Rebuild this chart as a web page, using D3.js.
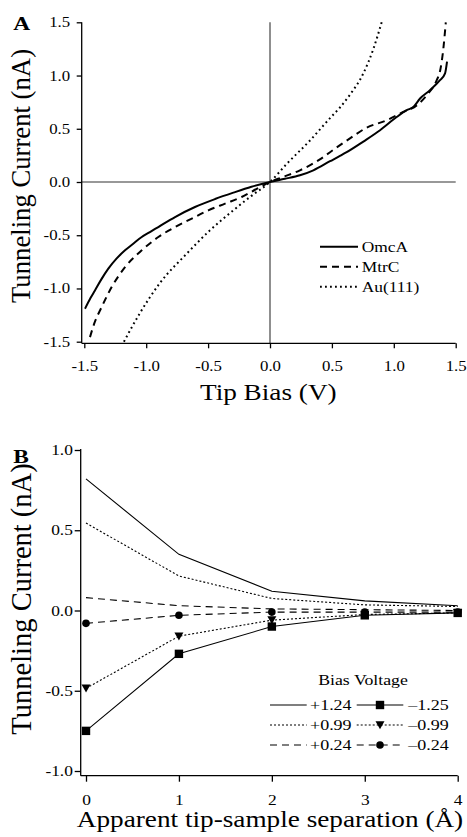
<!DOCTYPE html>
<html>
<head>
<meta charset="utf-8">
<script src="https://cdn.jsdelivr.net/npm/d3@7"></script>
<style>
  body { margin: 0; background: #fff; }
  text { font-family: "Liberation Serif", "Times New Roman", serif; fill: #000; }
</style>
</head>
<body>
<svg id="fig" width="467" height="837"></svg>
<script>
// ---- panel A data (tip bias V, current nA)
var omca_v = [-1.494,-1.45,-1.414,-1.36,-1.306,-1.24,-1.171,-1.10,-1.036,-0.97,-0.902,-0.767,-0.606,-0.444,-0.296,-0.15,0,0.12,0.242,0.35,0.485,0.565,0.619,0.754,0.889,1.023,1.104,1.158,1.212,1.292,1.373,1.414,1.43];
var omca_i = [-1.19,-1.09,-1.018,-0.91,-0.814,-0.72,-0.642,-0.575,-0.517,-0.47,-0.423,-0.329,-0.235,-0.160,-0.100,-0.045,0,0.03,0.063,0.11,0.195,0.245,0.28,0.38,0.486,0.61,0.674,0.705,0.784,0.862,0.956,1.02,1.13];
var mtrc_v = [-1.454,-1.42,-1.36,-1.279,-1.171,-1.036,-0.902,-0.767,-0.632,-0.498,-0.363,-0.229,-0.10,0,0.10,0.242,0.40,0.485,0.539,0.646,0.78,0.943,1.077,1.185,1.266,1.346,1.375,1.40,1.42];
var mtrc_i = [-1.457,-1.33,-1.175,-0.987,-0.80,-0.642,-0.517,-0.423,-0.344,-0.266,-0.203,-0.141,-0.06,0,0.045,0.11,0.21,0.28,0.325,0.41,0.51,0.58,0.658,0.72,0.815,0.955,1.05,1.25,1.50];
var au_v = [-1.18,-1.05,-0.89,-0.67,-0.485,-0.296,-0.15,0,0.135,0.323,0.485,0.565,0.646,0.754,0.835,0.902];
var au_i = [-1.5,-1.23,-0.95,-0.67,-0.454,-0.266,-0.13,0,0.17,0.39,0.6,0.70,0.82,1.02,1.25,1.5];
var a_ticks = [-1.5,-1.0,-0.5,0.0,0.5,1.0,1.5];
var a_names = ["OmcA","MtrC","Au(111)"];

// ---- panel B data (separation Å, current nA)
var sep = [0,1,2,3,4];
var p124 = [0.82,0.35,0.12,0.06,0.03];
var p099 = [0.545,0.215,0.075,0.035,0.025];
var p024 = [0.08,0.03,0.01,0.005,0.0];
var n125 = [-0.75,-0.27,-0.10,-0.03,-0.015];
var n099 = [-0.485,-0.16,-0.06,-0.025,-0.015];
var n024 = [-0.08,-0.03,-0.01,-0.01,-0.01];
var b_names = ["+1.24","+0.99","+0.24","\u20131.25","\u20130.99","\u20130.24"];
var b_yticks = [-1.0,-0.5,0.0,0.5,1.0];

var SX = 1.2; // horizontal stretch of the lettering
var svg = d3.select("#fig");

function label(g, x, y, s, size, anchor, weight){
  return g.append("text")
    .attr("transform", "translate(" + x + "," + y + ") scale(" + SX + ",1)")
    .attr("text-anchor", anchor || "start")
    .style("font-size", size + "px")
    .style("font-weight", weight || "normal")
    .text(s);
}
function fmt(d){ return d.toFixed(1); }

// ================= panel A
var xA = d3.scaleLinear().domain([-1.5,1.5]).range([84.3,455.7]);
var yA = d3.scaleLinear().domain([-1.5,1.5]).range([341.7,22.3]);
var leftA = 81.7, baseA = 343.3;
var gA = svg.append("g");

// cross hairs
gA.append("line").attr("x1", xA(0)).attr("x2", xA(0)).attr("y1", yA(1.5)).attr("y2", baseA)
  .style("stroke", "#333").style("stroke-width", 1.1);
gA.append("line").attr("x1", leftA).attr("x2", xA(1.5)).attr("y1", yA(0)).attr("y2", yA(0))
  .style("stroke", "#333").style("stroke-width", 1.1);

var axA_y = gA.append("g").attr("transform", "translate(" + leftA + ",0)")
  .call(d3.axisLeft(yA).tickValues(a_ticks).tickFormat(fmt).tickSize(5).tickSizeOuter(0).tickPadding(4.6));
var axA_x = gA.append("g").attr("transform", "translate(0," + baseA + ")")
  .call(d3.axisBottom(xA).tickValues(a_ticks).tickFormat(fmt).tickSize(5).tickSizeOuter(0).tickPadding(13.2));
[axA_y, axA_x].forEach(function(ax){
  ax.select(".domain").remove();
  ax.selectAll("line").style("stroke", "#000").style("stroke-width", 1.3);
  ax.selectAll("text").attr("transform", "scale(" + SX + ",1)")
    .style("font-size", "14px").attr("font-family", null).attr("font-size", null);
});
gA.append("line").attr("x1", leftA).attr("x2", leftA).attr("y1", yA(1.5)).attr("y2", baseA)
  .style("stroke", "#000").style("stroke-width", 1.3);
gA.append("line").attr("x1", leftA).attr("x2", xA(1.5)).attr("y1", baseA).attr("y2", baseA)
  .style("stroke", "#000").style("stroke-width", 1.3);

var seriesA = [
  {name: a_names[0], v: omca_v, i: omca_i, dash: null},
  {name: a_names[1], v: mtrc_v, i: mtrc_i, dash: "7,5"},
  {name: a_names[2], v: au_v, i: au_i, dash: "1.8,3.2"}
];
var lineA = d3.line().curve(d3.curveMonotoneX)
  .x(function(d){ return xA(d[0]); }).y(function(d){ return yA(d[1]); });
seriesA.forEach(function(s){
  gA.append("path").datum(d3.zip(s.v, s.i)).attr("d", lineA)
    .style("fill", "none").style("stroke", "#000").style("stroke-width", 2)
    .style("stroke-dasharray", s.dash);
});

// legend A
seriesA.forEach(function(s, k){
  var cy = 246.7 + k*20;
  gA.append("line").attr("x1", 320).attr("x2", 358).attr("y1", cy).attr("y2", cy)
    .style("stroke", "#000").style("stroke-width", 2).style("stroke-dasharray", s.dash);
  label(gA, 361.7, cy + 5, s.name, 14.5);
});

label(gA, 13.3, 30, "A", 19.5, "start", "bold");
label(gA, 268.3, 400, "Tip Bias (V)", 22.7, "middle");
gA.append("text").attr("transform", "translate(30,176) rotate(-90)")
  .attr("text-anchor", "middle").style("font-size", "26.7px").text("Tunneling Current (nA)");

// ================= panel B
var xB = d3.scaleLinear().domain([0,4]).range([86,457.7]);
var yB = d3.scaleLinear().domain([-1,1]).range([771,450]);
var leftB = 80.7, baseB = 775.7;
var gB = svg.append("g");

var axB_y = gB.append("g").attr("transform", "translate(" + leftB + ",0)")
  .call(d3.axisLeft(yB).tickValues(b_yticks).tickFormat(fmt).tickSize(6).tickSizeOuter(0).tickPadding(0.5));
var axB_x = gB.append("g").attr("transform", "translate(0," + baseB + ")")
  .call(d3.axisBottom(xB).tickValues(sep).tickFormat(d3.format("d")).tickSize(6).tickSizeOuter(0).tickPadding(13));
[axB_y, axB_x].forEach(function(ax){
  ax.select(".domain").remove();
  ax.selectAll("line").style("stroke", "#000").style("stroke-width", 1.3);
  ax.selectAll("text").attr("transform", "scale(" + SX + ",1)")
    .style("font-size", "14.5px").attr("font-family", null).attr("font-size", null);
});
gB.append("line").attr("x1", leftB).attr("x2", leftB).attr("y1", yB(1) - 1).attr("y2", baseB)
  .style("stroke", "#000").style("stroke-width", 1.3);
gB.append("line").attr("x1", leftB).attr("x2", xB(4)).attr("y1", baseB).attr("y2", baseB)
  .style("stroke", "#000").style("stroke-width", 1.3);

var seriesB = [
  {name: b_names[0], vals: p124, dash: null, mark: null},
  {name: b_names[1], vals: p099, dash: "2,2", mark: null},
  {name: b_names[2], vals: p024, dash: "7,5", mark: null},
  {name: b_names[3], vals: n125, dash: null, mark: "square"},
  {name: b_names[4], vals: n099, dash: "2,2", mark: "triangle"},
  {name: b_names[5], vals: n024, dash: "7,5", mark: "circle"}
];
var lineB = d3.line().x(function(d){ return xB(d[0]); }).y(function(d){ return yB(d[1]); });
function marker(g, type, x, y){
  if (type == "square") {
    g.append("rect").attr("x", x - 4.2).attr("y", y - 4.2).attr("width", 8.4).attr("height", 8.4).style("fill", "#000");
  } else if (type == "triangle") {
    g.append("path").attr("d", "M" + (x - 4.5) + "," + (y - 3.8) + "L" + (x + 4.5) + "," + (y - 3.8) + "L" + x + "," + (y + 4.2) + "Z").style("fill", "#000");
  } else if (type == "circle") {
    g.append("circle").attr("cx", x).attr("cy", y).attr("r", 3.8).style("fill", "#000");
  }
}
seriesB.forEach(function(s){
  gB.append("path").datum(d3.zip(sep, s.vals)).attr("d", lineB)
    .style("fill", "none").style("stroke", "#000").style("stroke-width", 1.1)
    .style("stroke-dasharray", s.dash);
  if (s.mark) {
    for (var i=0; i<sep.length; i++) {
      marker(gB, s.mark, xB(sep[i]), yB(s.vals[i]));
    }
  }
});

// legend B
label(gB, 363, 685, "Bias Voltage", 14.8, "middle");
seriesB.forEach(function(s, k){
  var col = Math.floor(k/3), row = k % 3;
  var cy = 705 + row*20;
  var x1 = col == 0 ? 270 : 356.7, x2 = col == 0 ? 306.7 : 403.3, tx = col == 0 ? 310 : 408.3;
  gB.append("line").attr("x1", x1).attr("x2", x2).attr("y1", cy).attr("y2", cy)
    .style("stroke", "#000").style("stroke-width", 1.1).style("stroke-dasharray", s.dash);
  if (s.mark) marker(gB, s.mark, (x1 + x2)/2, cy);
  label(gB, tx, cy + 5, s.name, 15);
});

label(gB, 13.3, 463, "B", 19.5, "start", "bold");
label(gB, 270, 827, "Apparent tip-sample separation (\u00c5)", 22.7, "middle");
gB.append("text").attr("transform", "translate(31.4,599) rotate(-90)")
  .attr("text-anchor", "middle").style("font-size", "28.5px").text("Tunneling Current (nA)");
</script>
</body>
</html>
